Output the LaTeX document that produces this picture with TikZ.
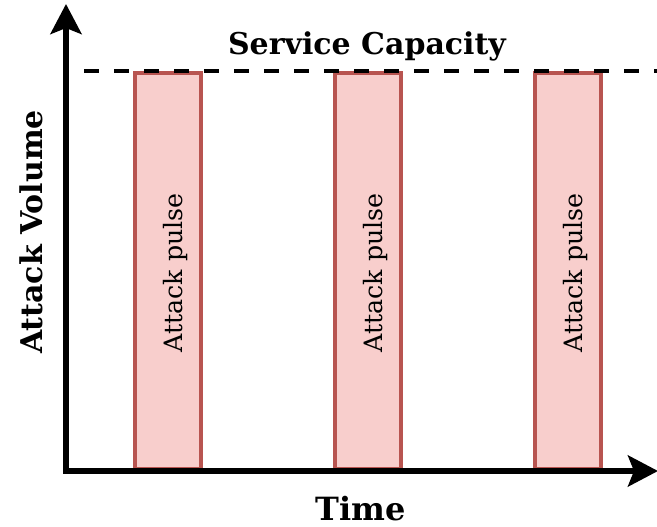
\documentclass[tikz,border=0pt]{standalone}
\usepackage{fontspec}
\setmainfont{DejaVu Serif}
\usetikzlibrary{arrows.meta}
\definecolor{pulsefill}{HTML}{F8CECC}
\definecolor{pulsedraw}{HTML}{B85450}
\tikzset{
  pulsebox/.style={draw=pulsedraw, fill=pulsefill, line width=4.5pt, minimum width=66pt, minimum height=396pt, inner sep=0pt},
  pulselabel/.style={rotate=90, anchor=base, font=\fontsize{25.3}{25}\selectfont},
  axis/.style={line width=5.5pt, -{Stealth[length=30pt, width=31pt, inset=6pt]}},
  capline/.style={line width=4.5pt, dash pattern=on 15pt off 15pt},
  biglabel/.style={anchor=base, inner sep=1pt, font=\bfseries\fontsize{30}{30}\selectfont}
}
\begin{document}
\begin{tikzpicture}[x=1pt,y=-1pt]
\useasboundingbox (0,0) rectangle (657,527);
\node[pulsebox] (p1) at (168,271) {};
\node[pulsebox] (p2) at (368,271) {};
\node[pulsebox] (p3) at (568,271) {};
\node[pulselabel] (l1) at (182,273) {Attack pulse};
\node[pulselabel] (l2) at (382,273) {Attack pulse};
\node[pulselabel] (l3) at (582,273) {Attack pulse};
\coordinate (c1) at (84,71);
\coordinate (c2) at (657,71);
\draw[capline] (c1) -- (c2);
\coordinate (o) at (66,471);
\coordinate (ytip) at (66,4);
\coordinate (xtip) at (658,471);
\draw[axis] ([yshift=-2.75pt]o) -- (ytip);
\draw[axis] ([xshift=-2.75pt]o) -- (xtip);
\node[biglabel] (title) at (367,55) {Service Capacity};
\node[biglabel, font=\bfseries\fontsize{32}{32}\selectfont] (time) at (361,520) {Time};
\node[biglabel, rotate=90] (yl) at (42,232) {Attack Volume};
\end{tikzpicture}
\end{document}
